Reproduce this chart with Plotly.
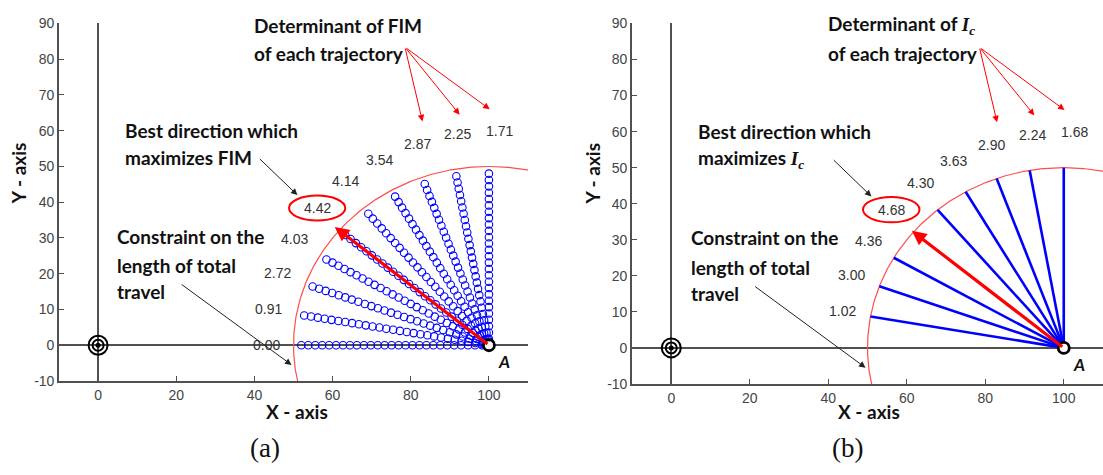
import numpy as np
import plotly.graph_objects as go

# ---- data -------------------------------------------------------------
start_point = (100.0, 0.0)          # point A
target_point = (0.0, 0.0)           # target at origin
travel_limit = 50.0                 # constraint on total travel length
traj_length = 48.0                  # length covered by each sampled trajectory
n_samples = 28                      # samples drawn along each trajectory

directions_fim = [180, 170, 160, 150, 140, 130, 120, 110, 100, 90]
det_fim = [0.00, 0.91, 2.72, 4.03, 4.42, 4.14, 3.54, 2.87, 2.25, 1.71]

directions_ic = [170, 160, 150, 140, 130, 120, 110, 100, 90]
det_ic = [1.02, 3.00, 4.36, 4.68, 4.30, 3.63, 2.90, 2.24, 1.68]

x_ticks = [0, 20, 40, 60, 80, 100]
y_ticks = [-10, 0, 10, 20, 30, 40, 50, 60, 70, 80, 90]

# ---- styles -------------------------------------------------------------
BLUE = "#0000ff"
RED = "#ff0000"
ARC_RED = "#ff4d4d"
AXIS_GREY = "#505050"
TICK_FONT = dict(family="Liberation Sans, Arial", size=14, color="#444444")
NOTE_FONT = dict(family="Lato, Calibri, sans-serif", size=19, color="#111111")
VALUE_FONT = dict(family="Liberation Sans, Arial", size=14, color="#333333")

fig = go.Figure()


def unit(deg):
    r = np.deg2rad(deg)
    return np.cos(r), np.sin(r)


def label_pos(deg):
    # value labels sit just outside the constraint arc
    r = 57 + 3 * (180 - deg) / 90
    a = deg - 2.5 * (180 - deg) / 90
    ux, uy = unit(a)
    return start_point[0] + r * ux, start_point[1] + r * uy


panels = [
    dict(xa="x", ya="y", dirs=directions_fim, dets=det_fim, kind="markers"),
    dict(xa="x2", ya="y2", dirs=directions_ic, dets=det_ic, kind="lines"),
]

annotations = []
shapes = []

for p in panels:
    xa, ya = p["xa"], p["ya"]
    dirs, dets = p["dirs"], p["dets"]
    best = dirs[int(np.argmax(dets))]

    # constraint arc
    th = np.linspace(0, 200, 400)
    ux, uy = unit(th)
    fig.add_trace(go.Scatter(
        x=start_point[0] + travel_limit * ux, y=start_point[1] + travel_limit * uy,
        mode="lines", line=dict(color=ARC_RED, width=1.2),
        xaxis=xa, yaxis=ya, hoverinfo="skip", showlegend=False))

    # candidate trajectories
    for d in dirs:
        ux, uy = unit(d)
        if p["kind"] == "markers":
            s = np.linspace(0, traj_length, n_samples)
            fig.add_trace(go.Scatter(
                x=start_point[0] + s * ux, y=start_point[1] + s * uy,
                mode="markers",
                marker=dict(symbol="circle-open", size=7.5, color=BLUE,
                            line=dict(width=1.1, color=BLUE)),
                xaxis=xa, yaxis=ya, hoverinfo="skip", showlegend=False))
        else:
            if d == best:
                continue
            fig.add_trace(go.Scatter(
                x=[start_point[0], start_point[0] + travel_limit * ux],
                y=[start_point[1], start_point[1] + travel_limit * uy],
                mode="lines", line=dict(color=BLUE, width=2.6),
                xaxis=xa, yaxis=ya, hoverinfo="skip", showlegend=False))

    # best direction (red arrow)
    bx, by = unit(best)
    reach = 51.5 if p["kind"] == "markers" else 50.5
    annotations.append(dict(
        x=start_point[0] + reach * bx, y=start_point[1] + reach * by,
        ax=start_point[0], ay=start_point[1],
        xref=xa, yref=ya, axref=xa, ayref=ya, text="",
        showarrow=True, arrowhead=2, arrowsize=0.9, arrowwidth=3.2,
        arrowcolor=RED))

    # value labels
    for d, v in zip(dirs, dets):
        lx, ly = label_pos(d)
        annotations.append(dict(x=lx, y=ly, xref=xa, yref=ya, text=f"{v:.2f}",
                                showarrow=False, font=VALUE_FONT))
        if d == best:
            shapes.append(dict(type="circle", xref=xa, yref=ya,
                               x0=lx - 7.2, x1=lx + 7.2, y0=ly - 3.5, y1=ly + 3.5,
                               line=dict(color=RED, width=2)))

    # target bullseye
    for sym, size, w in [("circle-open", 19, 2), ("circle-open", 11, 2), ("circle", 5, 0)]:
        fig.add_trace(go.Scatter(
            x=[target_point[0]], y=[target_point[1]], mode="markers",
            marker=dict(symbol=sym, size=size, color="black",
                        line=dict(width=w, color="black")),
            xaxis=xa, yaxis=ya, hoverinfo="skip", showlegend=False))

    # point A
    fig.add_trace(go.Scatter(
        x=[start_point[0]], y=[start_point[1]], mode="markers",
        marker=dict(symbol="circle", size=11, color="white",
                    line=dict(width=2.8, color="black")),
        xaxis=xa, yaxis=ya, hoverinfo="skip", showlegend=False))
    annotations.append(dict(x=103.8, y=-4.6, xref=xa, yref=ya, text="<b><i>A</i></b>",
                            showarrow=False,
                            font=dict(family="Lato, Calibri, sans-serif", size=17,
                                      color="#111111")))

    # notes
    ic = ("<b><i><span style='font-family:Liberation Serif, Times New Roman'>I</span>"
          "<sub><span style='font-family:Liberation Serif, Times New Roman'>c</span></sub></i></b>")
    quantity = "<b>FIM</b>" if p["kind"] == "markers" else ic
    lines = [
        ("<b>Determinant of </b>" + quantity, 39.3, 89.5),
        ("<b>of each trajectory</b>", 39.3, 81.6),
        ("<b>Best direction which</b>", 6.4, 60.1),
        ("<b>maximizes </b>" + quantity, 6.4, 52.5),
        ("<b>Constraint on the</b>", 4.4, 30.5),
        ("<b>length of total</b>", 4.4, 22.4),
        ("<b>travel</b>", 4.4, 15.1),
    ]
    for t, x, y in lines:
        annotations.append(dict(x=x, y=y, xref=xa, yref=ya, text=t, showarrow=False,
                                xanchor="left", yanchor="middle", font=NOTE_FONT))

    # pointer arrows
    for tail, head in [((78.5, 83.4), (83.0, 62.6)),
                       ((78.5, 83.4), (92.5, 64.5)),
                       ((78.5, 83.4), (100.2, 66.0))]:
        annotations.append(dict(x=head[0], y=head[1], ax=tail[0], ay=tail[1],
                                xref=xa, yref=ya, axref=xa, ayref=ya, text="",
                                showarrow=True, arrowhead=2, arrowsize=1.3,
                                arrowwidth=1, arrowcolor=RED))
    for tail, head in [((41.0, 52.5), (51.0, 42.0)),
                       ((21.0, 17.3), (49.5, -5.5))]:
        annotations.append(dict(x=head[0], y=head[1], ax=tail[0], ay=tail[1],
                                xref=xa, yref=ya, axref=xa, ayref=ya, text="",
                                showarrow=True, arrowhead=2, arrowsize=1.3,
                                arrowwidth=1, arrowcolor="#222222"))

# axis titles and panel captions
for tx, ty, t, ang in [(0.269, 0.12, "<b>X - axis</b>", 0),
                       (0.788, 0.12, "<b>X - axis</b>", 0),
                       (0.0163, 0.64, "<b>Y - axis</b>", -90),
                       (0.537, 0.64, "<b>Y - axis</b>", -90)]:
    annotations.append(dict(x=tx, y=ty, xref="paper", yref="paper", text=t,
                            showarrow=False, textangle=ang,
                            xanchor="center", yanchor="middle",
                            font=dict(family="Lato, Calibri, sans-serif", size=19,
                                      color="#111111")))
for tx, t in [(0.240, "(a)"), (0.768, "(b)")]:
    annotations.append(dict(x=tx, y=0.042, xref="paper", yref="paper", text=t,
                            showarrow=False, xanchor="center", yanchor="middle",
                            font=dict(family="Liberation Serif, Times New Roman",
                                      size=27, color="#111111")))

axis_common = dict(showgrid=False, showline=True, linecolor=AXIS_GREY, linewidth=1.6,
                   ticks="inside", ticklen=5, tickwidth=1.2, tickcolor=AXIS_GREY,
                   tickfont=TICK_FONT, zeroline=True, zerolinecolor=AXIS_GREY,
                   zerolinewidth=1.6, mirror=False)
x_axis = dict(range=[-10, 110], tickvals=x_ticks, ticktext=[str(v) for v in x_ticks],
              **axis_common)
y_axis = dict(range=[-10, 90], tickvals=y_ticks, ticktext=[str(v) for v in y_ticks],
              **axis_common)

fig.update_layout(
    width=1103, height=475,
    margin=dict(l=0, r=0, t=0, b=0),
    paper_bgcolor="white", plot_bgcolor="white",
    showlegend=False,
    xaxis=dict(domain=[0.0535, 0.4787], anchor="y", **x_axis),
    yaxis=dict(domain=[0.1874, 0.9663], anchor="x", **y_axis),
    xaxis2=dict(domain=[0.573, 1.0], anchor="y2", **x_axis),
    yaxis2=dict(domain=[0.181, 0.9663], anchor="x2", **y_axis),
    annotations=annotations,
    shapes=shapes,
)

fig.write_html("out.html")
